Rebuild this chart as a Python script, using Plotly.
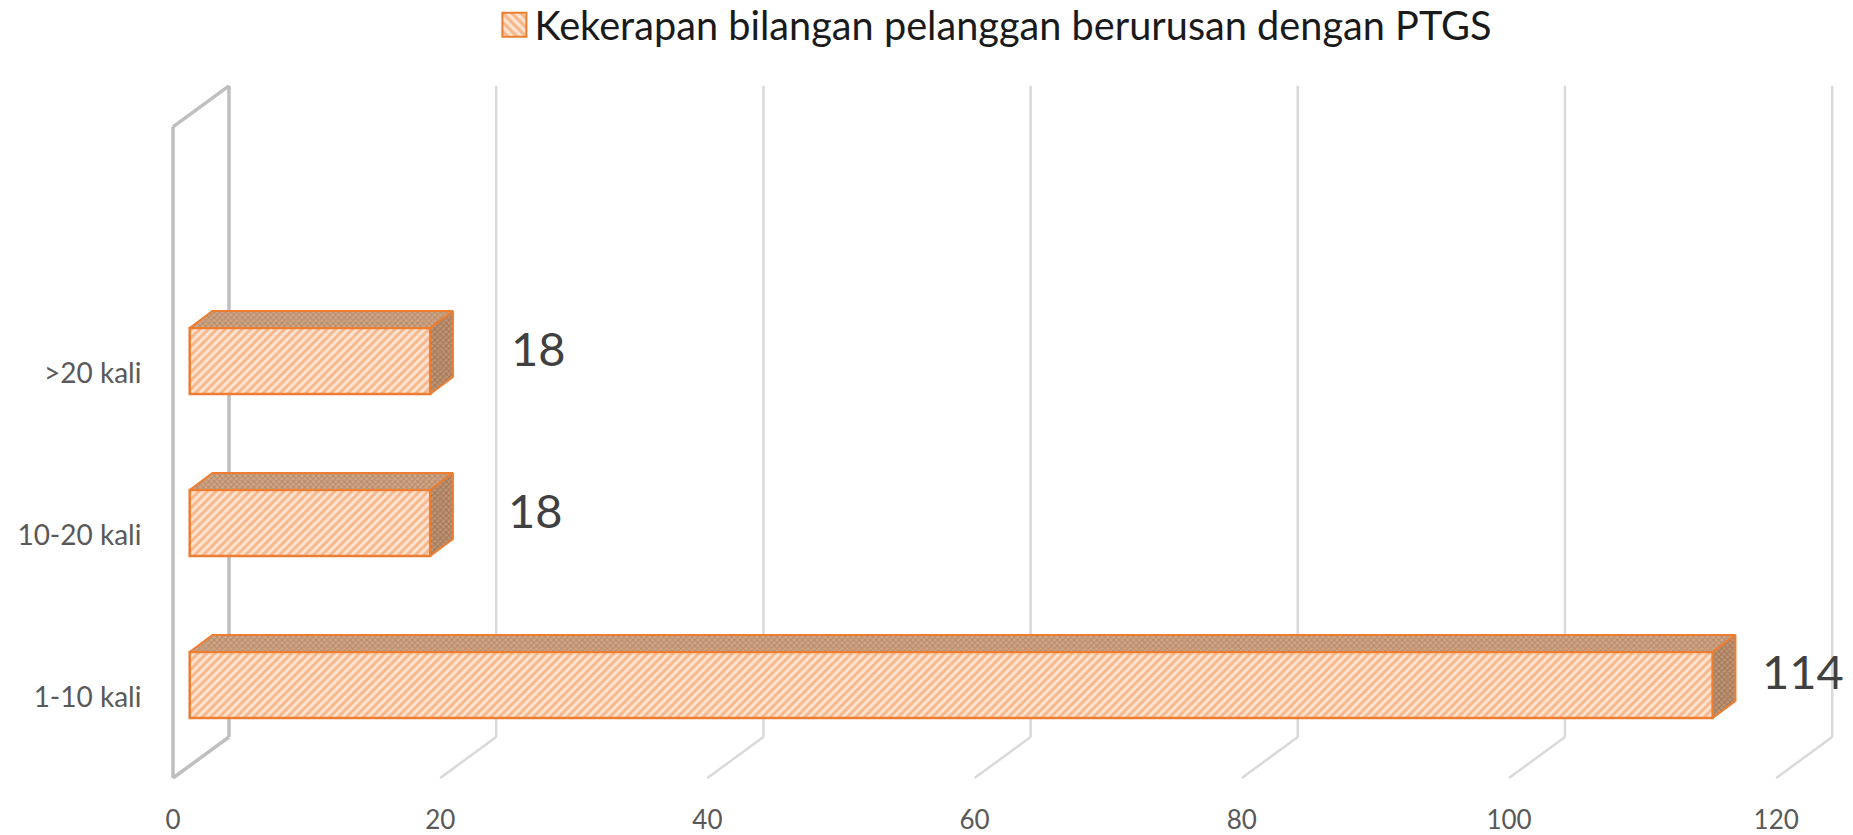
import plotly.graph_objects as go

categories = ["1-10 kali", "10-20 kali", ">20 kali"]
values = [114, 18, 18]
x_ticks = [0, 20, 40, 60, 80, 100, 120]
series_name = "Kekerapan bilangan pelanggan berurusan dengan PTGS"

W, H = 1853, 835
ORANGE = "#ed7d31"
FONT = "Lato"
L, R, T, B = 169, 10, 80, 54
X_MIN, X_MAX = -0.3, 125.0
WALL_Y0 = -0.5
Y_MIN, Y_MAX = WALL_Y0 - 0.0185, 3.809

# pseudo-3D geometry in axis units
WALL_DX, WALL_DY = 4.19, 0.253
WALL_TOP = 3.50 + WALL_DY + 0.02
BAR_BASE, BAR_W, BAR_SHIFT = 1.25, 0.407, 0.074
BAR_DX, BAR_DY = 1.70, 0.105
# pixel shifts of the value labels from the bar end
LABEL_SHIFT = [(90, 26), (105, 25), (108, 25)]

ys = list(range(len(categories)))
fig = go.Figure()

front_pattern = dict(shape="/", size=6, solidity=0.5, fgcolor="#ee8a44",
                     bgcolor="#fde4d2", fillmode="overlay")

fig.add_trace(go.Bar(
    y=ys, x=values, base=BAR_BASE, orientation="h", width=BAR_W,
    offset=BAR_SHIFT - BAR_W / 2, showlegend=False, hoverinfo="skip",
    marker=dict(color="#fde4d2", pattern=front_pattern,
                line=dict(color=ORANGE, width=2.5)),
))

# empty trace carrying the legend entry (its swatch hatch runs the other way)
fig.add_trace(go.Bar(
    y=[None], x=[None], orientation="h", name=series_name,
    marker=dict(color="#fde4d2",
                pattern=dict(front_pattern, shape="\\", size=8),
                line=dict(color=ORANGE, width=2)),
))

dark = dict(shape="x", size=4, solidity=0.45, fgcolor="#9a6b45", bgcolor="#cfa689")
for y, v in zip(ys, values):
    lo = y + BAR_SHIFT - BAR_W / 2
    hi = y + BAR_SHIFT + BAR_W / 2
    x0, x1 = BAR_BASE, BAR_BASE + v
    fig.add_trace(go.Scatter(
        x=[x0, x1, x1 + BAR_DX, x0 + BAR_DX, x0],
        y=[hi, hi, hi + BAR_DY, hi + BAR_DY, hi],
        mode="lines", fill="toself", fillcolor="#cfa689", fillpattern=dark,
        line=dict(color=ORANGE, width=2), showlegend=False, hoverinfo="skip"))
    fig.add_trace(go.Scatter(
        x=[x1, x1 + BAR_DX, x1 + BAR_DX, x1, x1],
        y=[lo, lo + BAR_DY, hi + BAR_DY, hi, lo],
        mode="lines", fill="toself", fillcolor="#bd9474",
        fillpattern=dict(dark, fgcolor="#85583a", bgcolor="#bd9474"),
        line=dict(color=ORANGE, width=2), showlegend=False, hoverinfo="skip"))

shapes = []
# grid lines on the back wall and their floor returns
for t in x_ticks[1:]:
    shapes.append(dict(type="line", layer="below", xref="x", yref="y",
                       x0=t + WALL_DX, x1=t + WALL_DX, y0=WALL_Y0 + WALL_DY, y1=WALL_TOP,
                       line=dict(color="#d9d9d9", width=2.5)))
    shapes.append(dict(type="line", layer="below", xref="x", yref="y",
                       x0=t, x1=t + WALL_DX, y0=WALL_Y0, y1=WALL_Y0 + WALL_DY,
                       line=dict(color="#d9d9d9", width=2.5)))
# side wall at zero
wall = [(0, WALL_Y0), (WALL_DX, WALL_Y0 + WALL_DY), (WALL_DX, WALL_TOP),
        (0, WALL_TOP - WALL_DY), (0, WALL_Y0)]
for (a, b), (c, d) in zip(wall[:-1], wall[1:]):
    shapes.append(dict(type="line", layer="below", xref="x", yref="y",
                       x0=a, y0=b, x1=c, y1=d, line=dict(color="#bfbfbf", width=3.5)))

annotations = [
    dict(x=BAR_BASE + v, y=y, xref="x", yref="y", text=str(v), showarrow=False,
         xshift=dx, yshift=dy, xanchor="center", yanchor="middle",
         font=dict(family=FONT, size=47, color="#404040"))
    for y, v, (dx, dy) in zip(ys, values, LABEL_SHIFT)
]

fig.update_layout(
    width=W, height=H, autosize=False,
    margin=dict(l=L, r=R, t=T, b=B, autoexpand=False),
    paper_bgcolor="white", plot_bgcolor="white",
    font=dict(family=FONT, color="#595959"),
    barmode="overlay", shapes=shapes, annotations=annotations,
    showlegend=True,
    legend=dict(xref="container", yref="container", x=0.2668, y=1 - 25 / H,
                xanchor="left", yanchor="middle", orientation="h",
                font=dict(family=FONT, size=39.7, color="#1a1a1a"),
                bgcolor="rgba(0,0,0,0)"),
    xaxis=dict(range=[X_MIN, X_MAX], tickmode="array", tickvals=x_ticks, automargin=False,
               ticktext=[str(t) for t in x_ticks], showgrid=False, zeroline=False,
               showline=False, ticks="outside", ticklen=16,
               tickcolor="rgba(0,0,0,0)", tickfont=dict(family=FONT, size=26, color="#595959")),
    yaxis=dict(range=[Y_MIN, Y_MAX], tickmode="array", tickvals=ys, ticktext=categories,
               automargin=False, showgrid=False, zeroline=False, showline=False,
               ticks="outside", ticklen=21, tickcolor="rgba(0,0,0,0)",
               tickfont=dict(family=FONT, size=28, color="#595959")),
)

# enlarge the legend swatch to the reference size
post = """
document.body.style.margin='0';
document.querySelectorAll('.legend .legendpoints path').forEach(function(p){
  p.setAttribute('d','M12,12H-12V-12H12Z');
});
"""
fig.write_html("out.html", config=dict(displayModeBar=False), post_script=post)
